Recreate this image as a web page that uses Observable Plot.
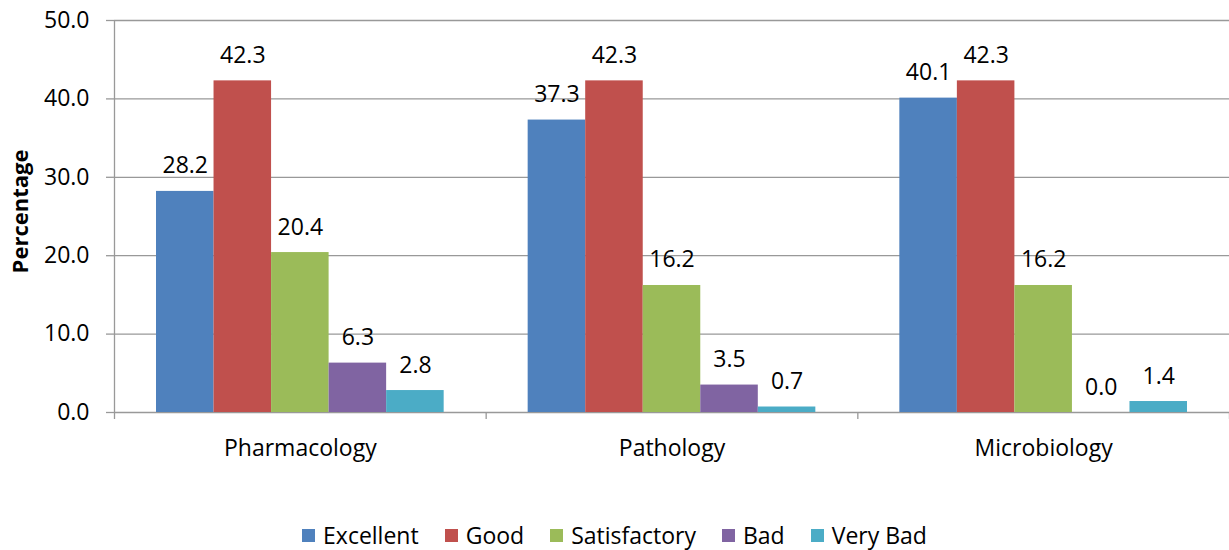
<!DOCTYPE html>
<html><head><meta charset="utf-8">
<script src="https://cdn.jsdelivr.net/npm/d3@7"></script>
<script src="https://cdn.jsdelivr.net/npm/@observablehq/plot@0.6"></script>
<style>
body{margin:0;background:#fff;font-family:"Open Sans",sans-serif;}
#legend{display:flex;justify-content:center;gap:26px;font-size:23px;height:90px;align-items:center;color:#000}
.item{display:flex;align-items:center;gap:8px}
.sw{width:13px;height:13px;display:inline-block}
</style></head><body><div id="chart"></div><div id="legend"></div>
<script>
const categories = ["Pharmacology", "Pathology", "Microbiology"];
const series = ["Excellent", "Good", "Satisfactory", "Bad", "Very Bad"];
const colors = ["#4F81BD", "#C0504D", "#9BBB59", "#8064A2", "#4BACC6"];
const excellent = [28.2, 37.3, 40.1];
const good = [42.3, 42.3, 42.3];
const satisfactory = [20.4, 16.2, 16.2];
const bad = [6.3, 3.5, 0.0];
const veryBad = [2.8, 0.7, 1.4];
const yTicks = [0, 10, 20, 30, 40, 50];

const seriesValues = [excellent, good, satisfactory, bad, veryBad];
const pad = 0.113;
const bw = (1 - 2 * pad) / series.length;
const rows = [];
categories.forEach((c, i) => {
  series.forEach((s, j) => {
    const x1 = i + pad + j * bw;
    rows.push({category: c, series: s, value: seriesValues[j][i], x1, x2: x1 + bw, xm: x1 + bw / 2});
  });
});

const font = "'Open Sans', sans-serif";
const chart = Plot.plot({
  width: 1229,
  height: 490,
  marginLeft: 114,
  marginRight: 0,
  marginTop: 20,
  marginBottom: 78,
  style: {fontFamily: font, fontSize: "23px", color: "#000", background: "#fff"},
  x: {domain: [0, 3], axis: null},
  y: {domain: [0, 50], axis: null},
  color: {domain: series, range: colors},
  marks: [
    Plot.gridY(yTicks, {stroke: "#999", strokeOpacity: 1, strokeWidth: 1.3}),
    Plot.rectY(rows, {x1: "x1", x2: "x2", y: "value", fill: "series"}),
    Plot.ruleX([0], {stroke: "#999", strokeWidth: 1.3}),
    Plot.axisY({ticks: yTicks, tickFormat: d => d.toFixed(1), tickSize: 8, tickPadding: 17, stroke: "#999", strokeWidth: 1.3, label: null, fontSize: 23, fill: "#000"}),
    Plot.axisX({ticks: [0, 1, 2, 3], tickFormat: () => "", tickSize: 7, stroke: "#999", strokeWidth: 1.3, label: null}),
    Plot.axisX({ticks: [0.5, 1.5, 2.5], tickFormat: d => categories[Math.floor(d)], tickSize: 0, tickPadding: 27, label: null, fontSize: 23, fill: "#000"}),
    Plot.text(rows, {x: "xm", y: "value", text: d => d.value.toFixed(1), lineAnchor: "bottom", dy: -18, fontSize: 23, fill: "#000"}),
    Plot.text(["Percentage"], {frameAnchor: "left", textAnchor: "middle", dx: -94, dy: -5, rotate: -90, fontWeight: "bold", fontSize: 22, fill: "#000"})
  ]
});
document.getElementById("chart").appendChild(chart);

const legend = document.getElementById("legend");
series.forEach((s, j) => {
  const item = document.createElement("div");
  item.className = "item";
  const sw = document.createElement("span");
  sw.className = "sw";
  sw.style.background = colors[j];
  const t = document.createElement("span");
  t.textContent = s;
  item.appendChild(sw);
  item.appendChild(t);
  legend.appendChild(item);
});
</script>
</body></html>
